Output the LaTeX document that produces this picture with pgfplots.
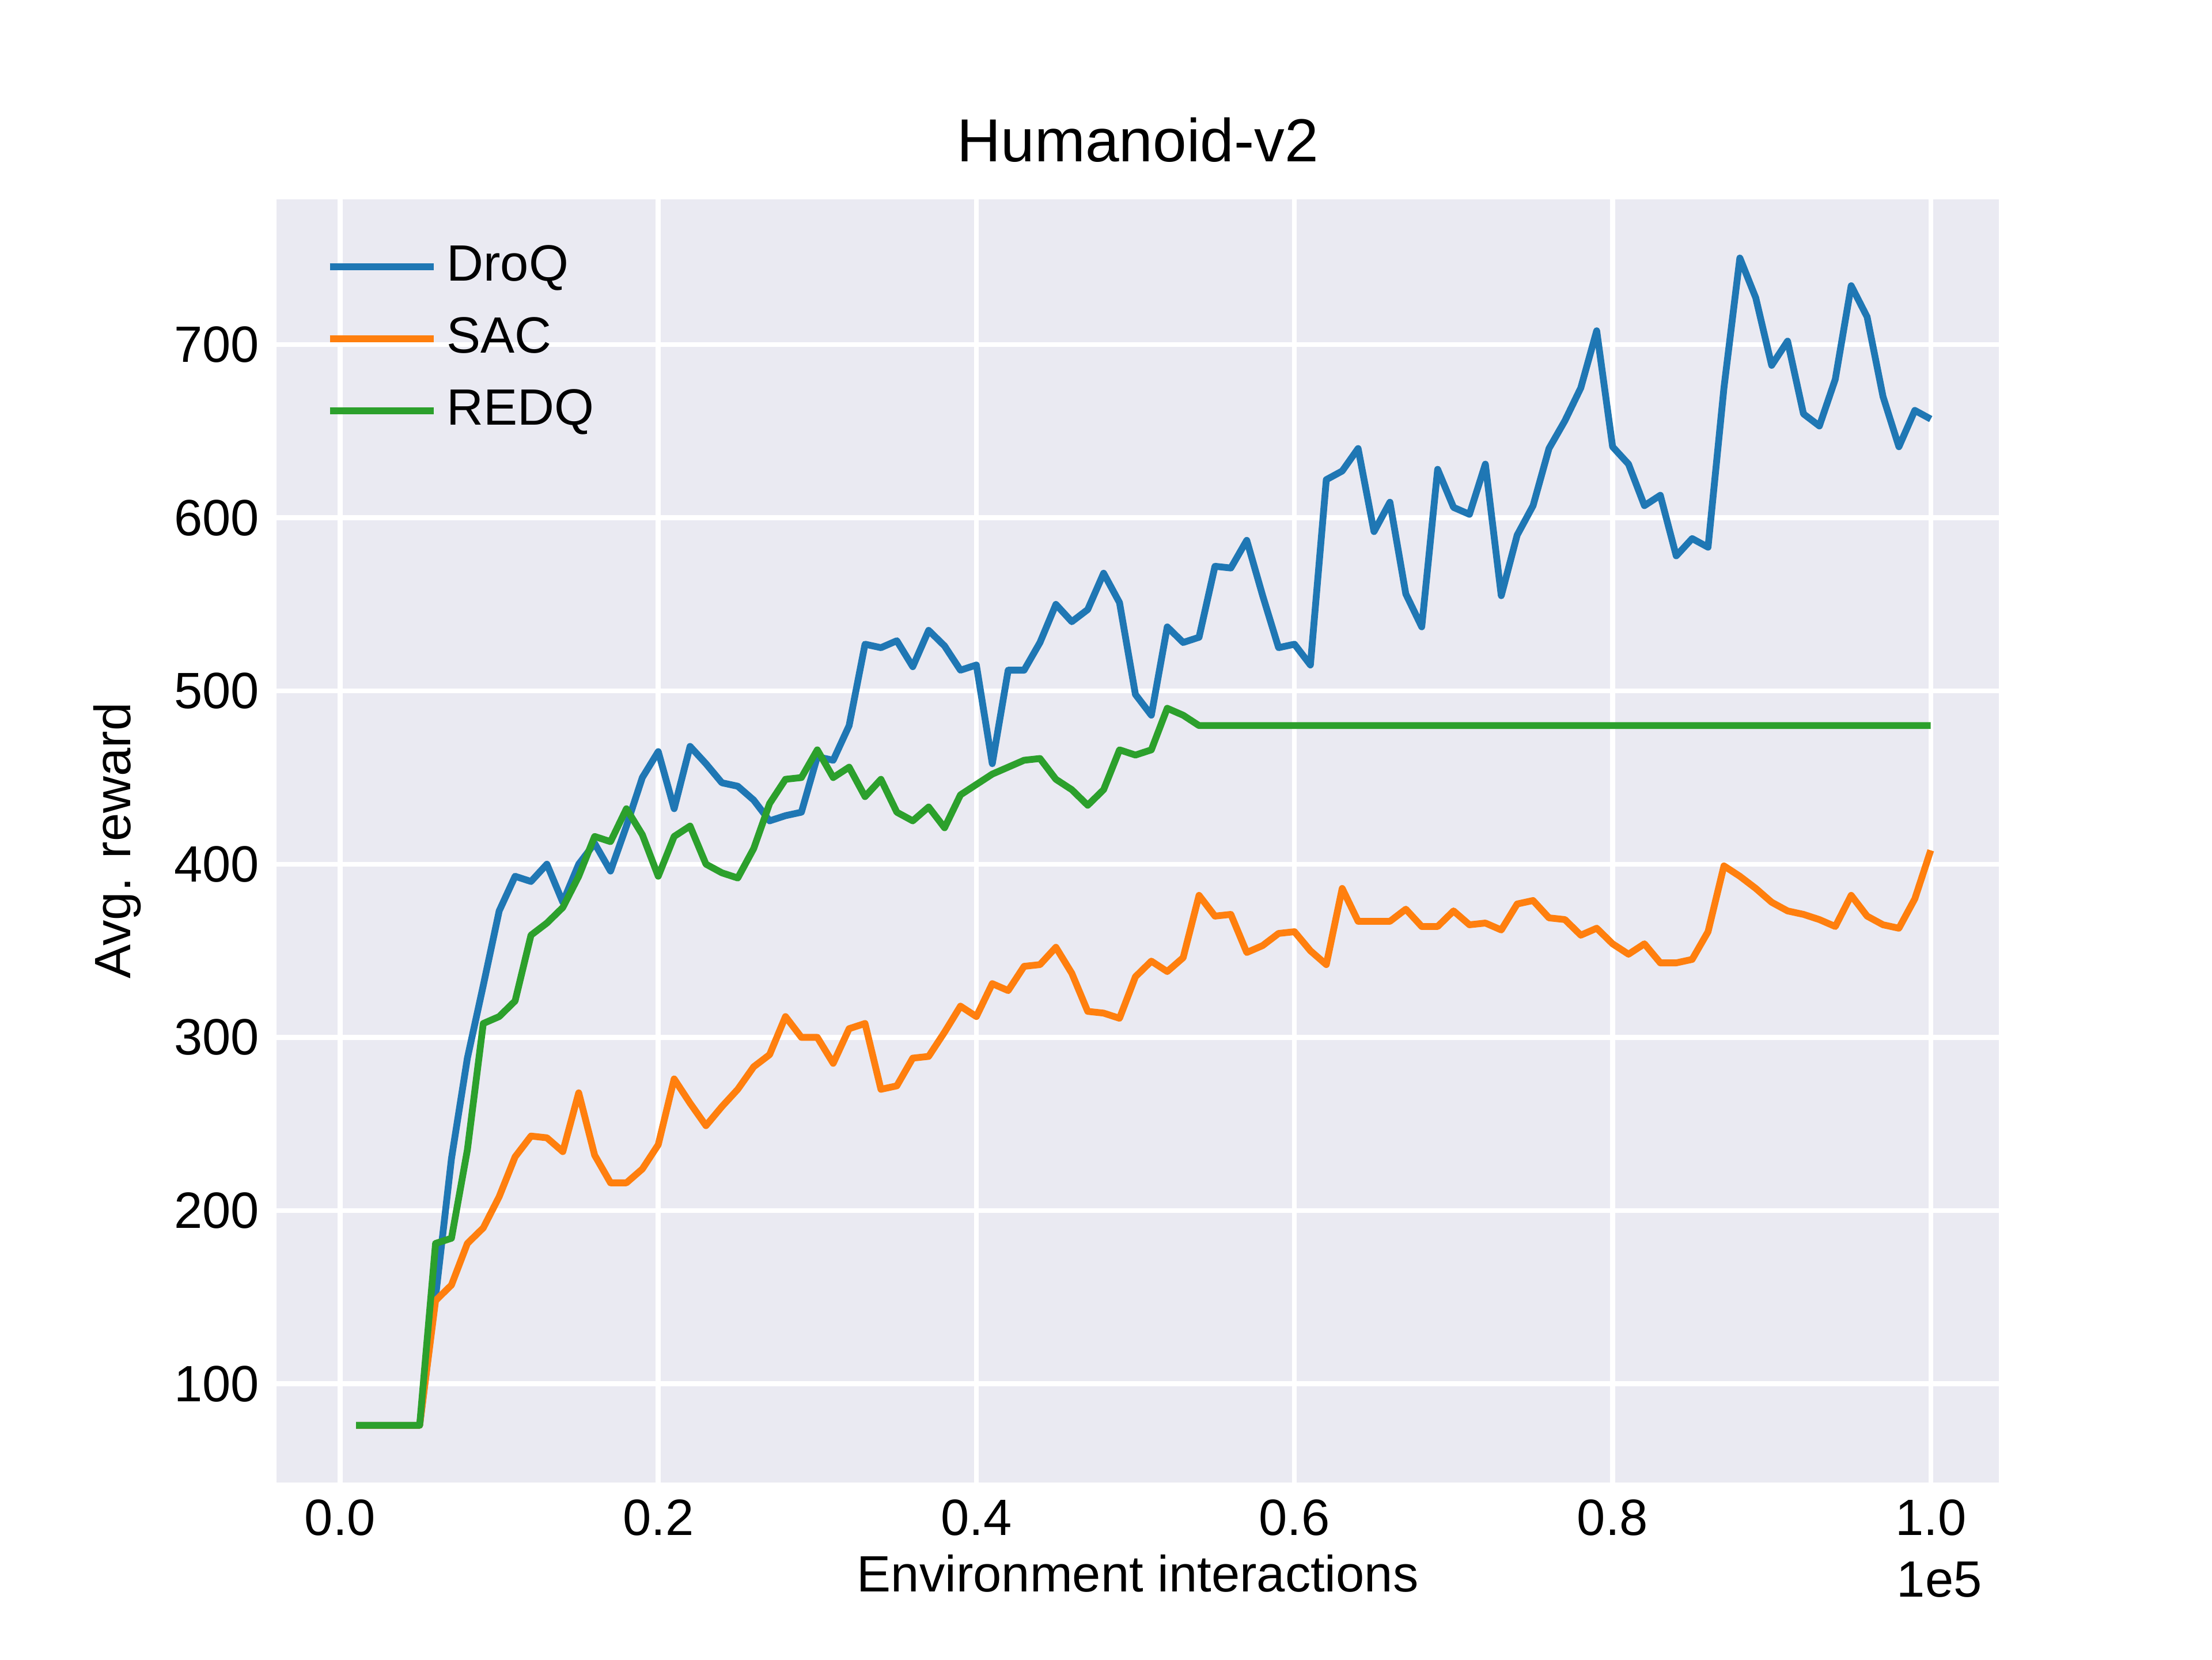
\documentclass[border=0pt]{standalone}
\usepackage{pgfplots}
\pgfplotsset{compat=1.18}
\usepackage{fontspec}
\setmainfont{Liberation Sans}
\definecolor{cB}{HTML}{1F77B4}
\definecolor{cO}{HTML}{FF7F0E}
\definecolor{cG}{HTML}{2CA02C}
\definecolor{bg}{HTML}{EAEAF2}
\begin{document}
\begin{tikzpicture}
\path[use as bounding box] (-2.0,-1.28) rectangle (14.0,10.72);
\begin{axis}[at={(0,0)},anchor=south west,scale only axis,width=12.46cm,height=9.28cm,
 xmin=-4000,xmax=104300,ymin=43,ymax=784,
 axis background/.style={fill=bg},axis line style={draw=none},
 grid=major,grid style={white,line width=1pt},
 tick style={draw=none},scaled x ticks=false,
 xtick={0,20000,40000,60000,80000,100000},
 xticklabels={0.0,0.2,0.4,0.6,0.8,1.0},
 ytick={100,200,300,400,500,600,700},
 /pgf/number format/assume math mode=true,
 ticklabel style={font=\fontsize{10.5}{12}\selectfont},
 label style={font=\fontsize{10.5}{12}\selectfont},
 xlabel={Environment interactions},ylabel={Avg. reward},
 xlabel style={yshift=3pt},
 title={Humanoid-v2},title style={font=\fontsize{12.5}{15}\selectfont,yshift=-2pt},
 legend style={draw=none,fill=none,at={(0.02,0.98)},anchor=north west,font=\fontsize{10.5}{12}\selectfont,row sep=2pt},
 legend image code/.code={\draw[#1] (0cm,0cm) -- (0.75cm,0cm);},
 legend cell align=left,
 every axis plot/.append style={line width=1.4pt,line join=round},
]
\addplot[cB] table[x expr=\thisrowno{0}*1000,y index=1]{
1 76
2 76
3 76
4 76
5 76
6 150
7 230
8 288
9 330
10 373
11 393
12 390
13 400
14 378
15 400
16 412
17 396
18 422
19 450
20 465
21 432
22 468
23 458
24 447
25 445
26 437
27 425
28 428
29 430
30 462
31 460
32 480
33 527
34 525
35 529
36 514
37 535
38 526
39 512
40 515
41 458
42 512
43 512
44 528
45 550
46 540
47 547
48 568
49 551
50 498
51 486
52 537
53 528
54 531
55 572
56 571
57 587
58 555
59 525
60 527
61 515
62 622
63 627
64 640
65 592
66 609
67 556
68 537
69 628
70 606
71 602
72 631
73 555
74 590
75 607
76 640
77 656
78 675
79 708
80 641
81 631
82 607
83 613
84 578
85 588
86 583
87 675
88 750
89 727
90 688
91 702
92 660
93 653
94 680
95 734
96 716
97 670
98 641
99 662
100 657
};
\addlegendentry{DroQ}
\addplot[cO] table[x expr=\thisrowno{0}*1000,y index=1]{
1 76
2 76
3 76
4 76
5 76
6 148
7 157
8 181
9 190
10 208
11 231
12 243
13 242
14 234
15 268
16 232
17 216
18 216
19 224
20 238
21 276
22 262
23 249
24 260
25 270
26 283
27 290
28 312
29 300
30 300
31 285
32 305
33 308
34 270
35 272
36 288
37 289
38 303
39 318
40 312
41 331
42 327
43 341
44 342
45 352
46 337
47 315
48 314
49 311
50 335
51 344
52 338
53 346
54 382
55 370
56 371
57 349
58 353
59 360
60 361
61 350
62 342
63 386
64 367
65 367
66 367
67 374
68 364
69 364
70 373
71 365
72 366
73 362
74 377
75 379
76 369
77 368
78 359
79 363
80 354
81 348
82 354
83 343
84 343
85 345
86 361
87 399
88 393
89 386
90 378
91 373
92 371
93 368
94 364
95 382
96 370
97 365
98 363
99 380
100 408
};
\addlegendentry{SAC}
\addplot[cG] table[x expr=\thisrowno{0}*1000,y index=1]{
1 76
2 76
3 76
4 76
5 76
6 181
7 184
8 235
9 308
10 312
11 321
12 359
13 366
14 375
15 393
16 416
17 413
18 432
19 417
20 393
21 416
22 422
23 400
24 395
25 392
26 409
27 435
28 449
29 450
30 466
31 450
32 456
33 439
34 449
35 430
36 425
37 433
38 421
39 440
40 446
41 452
42 456
43 460
44 461
45 449
46 443
47 434
48 443
49 466
50 463
51 466
52 490
53 486
54 480
60 480
70 480
80 480
90 480
100 480
};
\addlegendentry{REDQ}
\end{axis}
\node[anchor=north east,font=\fontsize{10.5}{12}\selectfont] at (12.46,-0.45) {1e5};
\end{tikzpicture}
\end{document}
